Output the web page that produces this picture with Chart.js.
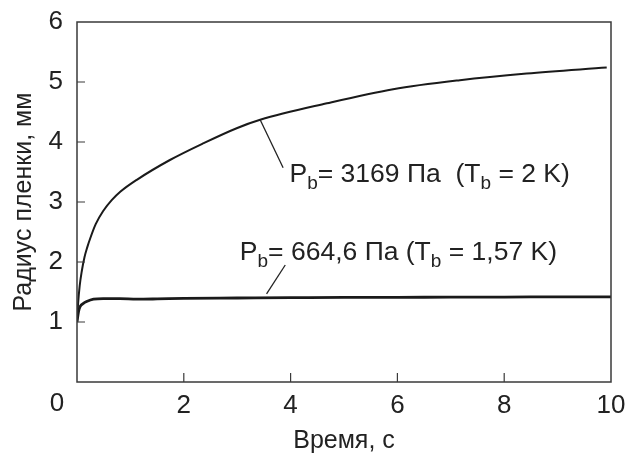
<!DOCTYPE html>
<html lang="ru">
<head>
<meta charset="UTF-8">
<title>Радиус пленки</title>
<script src="https://cdn.jsdelivr.net/npm/chart.js"></script>
<style>
  html, body { margin: 0; padding: 0; background: #fff; }
  #wrap { width: 628px; height: 459px; }
</style>
</head>
<body>
<div id="wrap"><canvas id="chart"></canvas></div>
<script>
// Values: time, s / film radius, mm
const timeHigh   = [0, 0.02, 0.05, 0.09, 0.14, 0.19, 0.25, 0.35, 0.49, 0.65, 0.81, 1.12, 1.74, 2.37, 2.99, 3.43, 4.68, 5.92, 7.17, 8.42, 9.92];
const radiusHigh = [1.0, 1.3, 1.6, 1.85, 2.08, 2.24, 2.40, 2.63, 2.85, 3.03, 3.17, 3.37, 3.70, 3.98, 4.23, 4.37, 4.645, 4.88, 5.03, 5.14, 5.24];

const timeLow   = [0, 0.03, 0.06, 0.12, 0.18, 0.31, 0.49, 0.8, 1.12, 1.5, 2, 3, 4, 5, 6, 7, 8, 9, 10];
const radiusLow = [1.0, 1.18, 1.26, 1.31, 1.34, 1.38, 1.39, 1.39, 1.38, 1.385, 1.395, 1.40, 1.405, 1.41, 1.41, 1.415, 1.415, 1.42, 1.42];

const xTicks = [0, 2, 4, 6, 8, 10];
const yTicks = [0, 1, 2, 3, 4, 5, 6];

// callout text pieces: [text, isSubscript]
const labelHigh = [['P', 0], ['b', 1], ['= 3169 Па  (T', 0], ['b', 1], [' = 2 K)', 0]];
const labelLow  = [['P', 0], ['b', 1], ['= 664,6 Па (T', 0], ['b', 1], [' = 1,57 K)', 0]];
// leader line (from, to) and text start, in data units
const leaderHigh = [[3.43, 4.37], [3.86, 3.57]];
const textHigh   = [3.98, 3.34];
const leaderLow  = [[3.55, 1.47], [3.90, 1.95]];
const textLow    = [3.05, 2.03];

const FONT = '"Liberation Sans", Arial, Helvetica, sans-serif';

function pts(xs, ys) {
    return xs.map((x, i) => ({ x: x, y: ys[i] }));
}

const framePlugin = {
    id: 'frame',
    afterDraw(chart) {
        const ctx = chart.ctx;
        const a = chart.chartArea;
        const xs = chart.scales.x, ys = chart.scales.y;
        ctx.save();
        ctx.strokeStyle = '#3a3a3a';
        ctx.lineWidth = 1.5;
        ctx.strokeRect(a.left, a.top, a.right - a.left, a.bottom - a.top);

        // inward ticks
        ctx.lineWidth = 1.2;
        ctx.beginPath();
        xs.ticks.forEach(t => {
            if (t.value <= xs.min || t.value >= xs.max) return;
            const px = xs.getPixelForValue(t.value);
            ctx.moveTo(px, a.bottom);
            ctx.lineTo(px, a.bottom - 9);
        });
        ys.ticks.forEach(t => {
            if (t.value <= ys.min || t.value >= ys.max) return;
            const py = ys.getPixelForValue(t.value);
            ctx.moveTo(a.left, py);
            ctx.lineTo(a.left + 8, py);
        });
        ctx.stroke();

        // shared origin label
        ctx.fillStyle = '#222';
        ctx.font = '26px ' + FONT;
        ctx.textAlign = 'center';
        ctx.textBaseline = 'middle';
        ctx.fillText('0', a.left - 20, a.bottom + 22);

        // callouts
        function callout(leader, start, parts) {
            ctx.strokeStyle = '#222';
            ctx.lineWidth = 1.3;
            ctx.beginPath();
            ctx.moveTo(xs.getPixelForValue(leader[0][0]), ys.getPixelForValue(leader[0][1]));
            ctx.lineTo(xs.getPixelForValue(leader[1][0]), ys.getPixelForValue(leader[1][1]));
            ctx.stroke();
            let x = xs.getPixelForValue(start[0]);
            const base = ys.getPixelForValue(start[1]);
            ctx.textAlign = 'left';
            ctx.textBaseline = 'alphabetic';
            parts.forEach(p => {
                ctx.font = (p[1] ? '19px ' : '26.5px ') + FONT;
                ctx.fillText(p[0], x, p[1] ? base + 7 : base);
                x += ctx.measureText(p[0]).width;
            });
        }
        callout(leaderHigh, textHigh, labelHigh);
        callout(leaderLow, textLow, labelLow);
        ctx.restore();
    }
};

new Chart(document.getElementById('chart'), {
    type: 'line',
    data: {
        datasets: [{
            data: pts(timeHigh, radiusHigh),
            borderColor: '#1a1a1a',
            borderWidth: 2,
            pointRadius: 0,
            cubicInterpolationMode: 'monotone',
            fill: false
        }, {
            data: pts(timeLow, radiusLow),
            borderColor: '#1a1a1a',
            borderWidth: 2.8,
            pointRadius: 0,
            cubicInterpolationMode: 'monotone',
            fill: false
        }]
    },
    options: {
        responsive: true,
        maintainAspectRatio: false,
        animation: false,
        layout: { padding: { top: 22, right: 17, left: 0, bottom: 0 } },
        plugins: { legend: { display: false }, tooltip: { enabled: false } },
        scales: {
            x: {
                type: 'linear',
                min: 0,
                max: 10,
                afterBuildTicks: s => { s.ticks = xTicks.map(v => ({ value: v })); },
                afterFit: s => { s.height = 77; s.paddingLeft = 0; s.paddingRight = 0; },
                grid: { display: false, drawTicks: false },
                border: { display: false },
                ticks: {
                    padding: 8,
                    color: '#222',
                    font: { family: FONT, size: 26 },
                    maxRotation: 0,
                    callback: v => v === 0 ? '' : v
                },
                title: {
                    display: true,
                    text: 'Время, с',
                    color: '#222',
                    font: { family: FONT, size: 25 },
                    padding: { top: 0, bottom: 3 }
                }
            },
            y: {
                min: 0,
                max: 6,
                afterBuildTicks: s => { s.ticks = yTicks.map(v => ({ value: v })); },
                afterFit: s => { s.width = 77; s.paddingTop = 0; s.paddingBottom = 0; },
                grid: { display: false, drawTicks: false },
                border: { display: false },
                ticks: {
                    padding: 14,
                    color: '#222',
                    font: { family: FONT, size: 26 },
                    callback: v => v === 0 ? '' : v
                },
                title: {
                    display: true,
                    text: 'Радиус пленки, мм',
                    color: '#222',
                    font: { family: FONT, size: 25 },
                    padding: { top: 9, bottom: 0 }
                }
            }
        }
    },
    plugins: [framePlugin]
});
</script>
</body>
</html>
